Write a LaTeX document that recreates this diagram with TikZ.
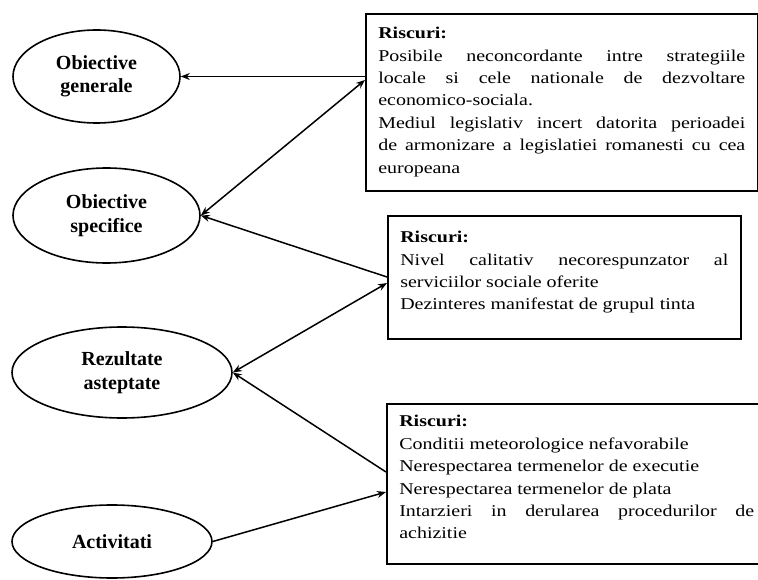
\documentclass[tikz,border=0pt]{standalone}
\usepackage{fontspec}
\setmainfont{Liberation Serif}
\newfontfamily\riskfont[FakeStretch=1.21]{Liberation Serif}
\usetikzlibrary{arrows.meta,shapes.geometric}
\tikzset{
    %Define standard arrow tip
    >={Stealth[length=9pt,width=7pt]},
    %Define style for the stages
    stage/.style={
           ellipse,
           draw=black, line width=1.6pt,
           inner sep=0pt,
           align=center,
           font=\fontsize{20}{23.5}\selectfont\bfseries},
    %Define style for the risk boxes
    riskbox/.style={
           rectangle,
           draw=black, line width=1.6pt,
           anchor=north west,
           inner xsep=12.5pt,
           inner ysep=8pt,
           align=justify,
           font=\riskfont\fontsize{16.5}{22.4}\selectfont},
    % Define arrow style
    link/.style={
           line width=1.5pt}
}
\tolerance=10000
\hbadness=10000

\begin{document}
\begin{tikzpicture}[x=1pt,y=-1pt]
\useasboundingbox (0,0) rectangle (758,580);
\node[stage, minimum width=167pt, minimum height=93pt](og) at (96.5,76.5){Obiective\\generale};
\node[stage, minimum width=187pt, minimum height=95pt](os) at (106.5,215.5){Obiective\\specifice};
\node[stage, minimum width=220pt, minimum height=91pt](ra) at (122,372.5){Rezultate\\asteptate};
\node[stage, minimum width=200pt, minimum height=73pt](act) at (112,541.5){Activitati};
\node[riskbox, text width=367pt, text height=17pt, text depth=144pt](r1) at (365,13){%
  \textbf{Riscuri:}\\
  Posibile neconcordante intre strategiile\linebreak
  locale si cele nationale de dezvoltare\linebreak
  economico-sociala.\\
  Mediul legislativ incert datorita perioadei\linebreak
  de armonizare a legislatiei romanesti cu cea\linebreak
  europeana};
\node[riskbox, text width=328pt, text height=19pt, text depth=88pt](r2) at (387,215){%
  \textbf{Riscuri:}\\
  Nivel calitativ necorespunzator al\linebreak
  serviciilor sociale oferite\\
  Dezinteres manifestat de grupul tinta};
\node[riskbox, text width=355pt, text height=15pt, text depth=129pt](r3) at (386,403){%
  \textbf{Riscuri:}\\
  Conditii meteorologice nefavorabile\\
  Nerespectarea termenelor de executie\\
  Nerespectarea termenelor de plata\\
  Intarzieri in derularea procedurilor de\linebreak
  achizitie};
\draw[link,->] (r1.west |- og.east) -- (og.east);
\draw[link,<->] (os.east) -- ([yshift=-67pt]r1.north west);
\draw[link,->] ([yshift=-62pt]r2.north west) -- (os.east);
\draw[link,<->] (ra.east) -- ([yshift=-68pt]r2.north west);
\draw[link,->] ([yshift=-69pt]r3.north west) -- (ra.east);
\draw[link,->] (act.east) -- ([yshift=-89pt]r3.north west);
\end{tikzpicture}
\end{document}
